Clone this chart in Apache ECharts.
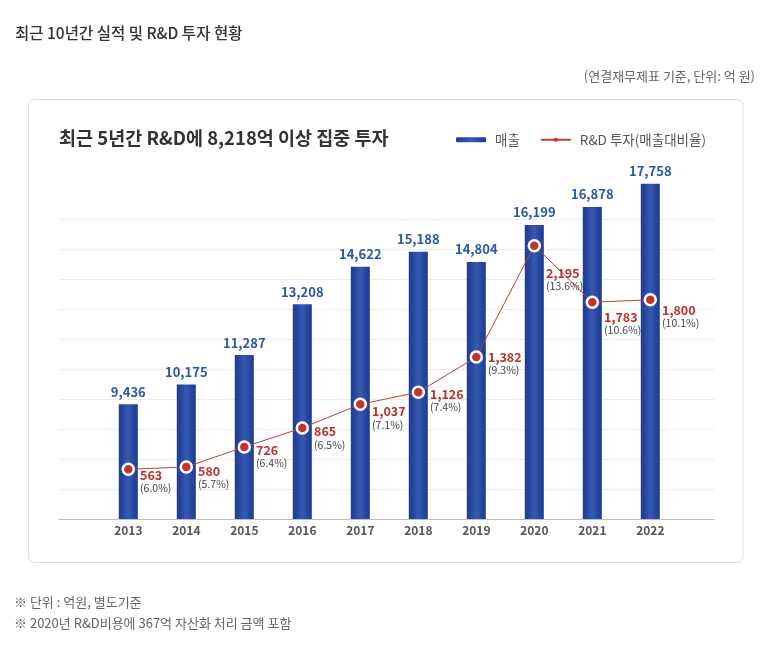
<!DOCTYPE html>
<html>
<head>
<meta charset="utf-8">
<script src="https://cdn.jsdelivr.net/npm/echarts@6/dist/echarts.min.js"></script>
<style>
  html, body { margin: 0; padding: 0; background: #fff; }
  #chart { width: 771px; height: 645px; }
</style>
</head>
<body>
<div id="chart"></div>
<script>
var years = ['2013', '2014', '2015', '2016', '2017', '2018', '2019', '2020', '2021', '2022'];
var sales = [9436, 10175, 11287, 13208, 14622, 15188, 14804, 16199, 16878, 17758];
var rnd = [563, 580, 726, 865, 1037, 1126, 1382, 2195, 1783, 1800];
var rndRatio = ['6.0', '5.7', '6.4', '6.5', '7.1', '7.4', '9.3', '13.6', '10.6', '10.1'];

var FONT = '"Noto Sans CJK KR", "Noto Sans", sans-serif';

// how far each R&D label sits below its dot
var labelDrop = [6, 4, 3.5, 3.7, 7.3, 2, 0, 27.7, 15, 10];

function fmt(n) {
    return n.toLocaleString('en-US');
}

var barColor = new echarts.graphic.LinearGradient(0, 0, 1, 0, [
    {offset: 0, color: '#1d3b8f'},
    {offset: 0.5, color: '#3558b2'},
    {offset: 1, color: '#1d3b8f'}
]);

var lineData = rnd.map(function (v, i) {
    return {
        value: v,
        label: {offset: [0, labelDrop[i] + 6.5]}
    };
});

var option = {
    animation: false,
    textStyle: {fontFamily: FONT},
    graphic: [{
        type: 'rect',
        shape: {x: 28.5, y: 99.5, width: 714.5, height: 463, r: 6},
        style: {fill: '#fff', stroke: '#dedede', lineWidth: 1},
        z: -10
    }],
    title: [{
        text: '최근 10년간 실적 및 R&D 투자 현황',
        left: 15, top: 25.5, padding: 0,
        textStyle: {fontSize: 15.5, fontWeight: 500, color: '#333', fontFamily: FONT}
    }, {
        text: '(연결재무제표 기준, 단위: 억 원)',
        right: 16, top: 69.5, padding: 0,
        textStyle: {fontSize: 13, fontWeight: 'normal', color: '#666', fontFamily: FONT}
    }, {
        text: '최근 5년간 R&D에 8,218억 이상 집중 투자',
        left: 59, top: 128.5, padding: 0,
        textStyle: {fontSize: 18.5, fontWeight: 'bold', color: '#333', fontFamily: FONT}
    }, {
        text: '※ 단위 : 억원, 별도기준\n※ 2020년 R&D비용에 367억 자산화 처리 금액 포함',
        left: 14, top: 591, padding: 0,
        textStyle: {fontSize: 13, fontWeight: 'normal', color: '#666', lineHeight: 21.5, fontFamily: FONT}
    }],
    legend: {
        left: 456, top: 133, padding: 0,
        itemWidth: 30, itemHeight: 5,
        itemGap: 20,
        textStyle: {fontSize: 13.5, color: '#555', fontFamily: FONT, padding: [0, 0, 0, 4]},
        data: ['매출', {name: 'R&D 투자(매출대비율)', itemStyle: {borderWidth: 0}}]
    },
    grid: [
        {left: 59, right: 57, top: 219, bottom: 126},
        {left: 99.3, right: 91.7, top: 119, bottom: 126}
    ],
    xAxis: [{
        type: 'value', gridIndex: 0, min: 0, max: 1,
        axisLine: {show: true, onZero: false, lineStyle: {color: '#bdbdbd', width: 1}},
        axisTick: {show: false}, axisLabel: {show: false}, splitLine: {show: false}
    }, {
        type: 'category', gridIndex: 1, data: years,
        axisLine: {show: false}, axisTick: {show: false},
        axisLabel: {color: '#555', fontSize: 12, fontWeight: 'bold', margin: 5, fontFamily: FONT}
    }],
    yAxis: [{
        type: 'value', gridIndex: 0, min: 0, max: 10, interval: 1,
        axisLine: {show: false}, axisTick: {show: false}, axisLabel: {show: false},
        splitLine: {lineStyle: {color: '#ececec', width: 1}}
    }, {
        type: 'value', gridIndex: 1, min: 5100, max: 20200, show: false,
        splitLine: {show: false}
    }, {
        type: 'value', gridIndex: 1, min: 200, max: 3120, show: false,
        splitLine: {show: false}
    }],
    series: [{
        name: '매출',
        type: 'bar',
        xAxisIndex: 1, yAxisIndex: 1,
        barWidth: 19,
        data: sales,
        itemStyle: {color: barColor},
        label: {
            show: true, position: 'top', distance: 6,
            color: '#2a57a6', fontSize: 13, fontWeight: 'bold', fontFamily: FONT,
            formatter: function (p) { return fmt(p.value); }
        },
        z: 2
    }, {
        name: 'R&D 투자(매출대비율)',
        type: 'line',
        xAxisIndex: 1, yAxisIndex: 2,
        data: lineData,
        symbol: 'circle', symbolSize: 11,
        lineStyle: {color: '#b9413c', width: 1},
        itemStyle: {color: '#c0342f', borderColor: '#fff', borderWidth: 2.5},
        label: {
            show: true, position: 'right', distance: 5, align: 'left',
            formatter: function (p) {
                return '{v|' + fmt(p.value) + '}\n{p|(' + rndRatio[p.dataIndex] + '%)}';
            },
            rich: {
                v: {color: '#b8302c', fontSize: 12.5, fontWeight: 'bold', lineHeight: 13, fontFamily: FONT},
                p: {color: '#444', fontSize: 10.5, lineHeight: 13, fontFamily: FONT}
            }
        },
        z: 5
    }]
};

var chart = echarts.init(document.getElementById('chart'));
chart.setOption(option);
</script>
</body>
</html>
